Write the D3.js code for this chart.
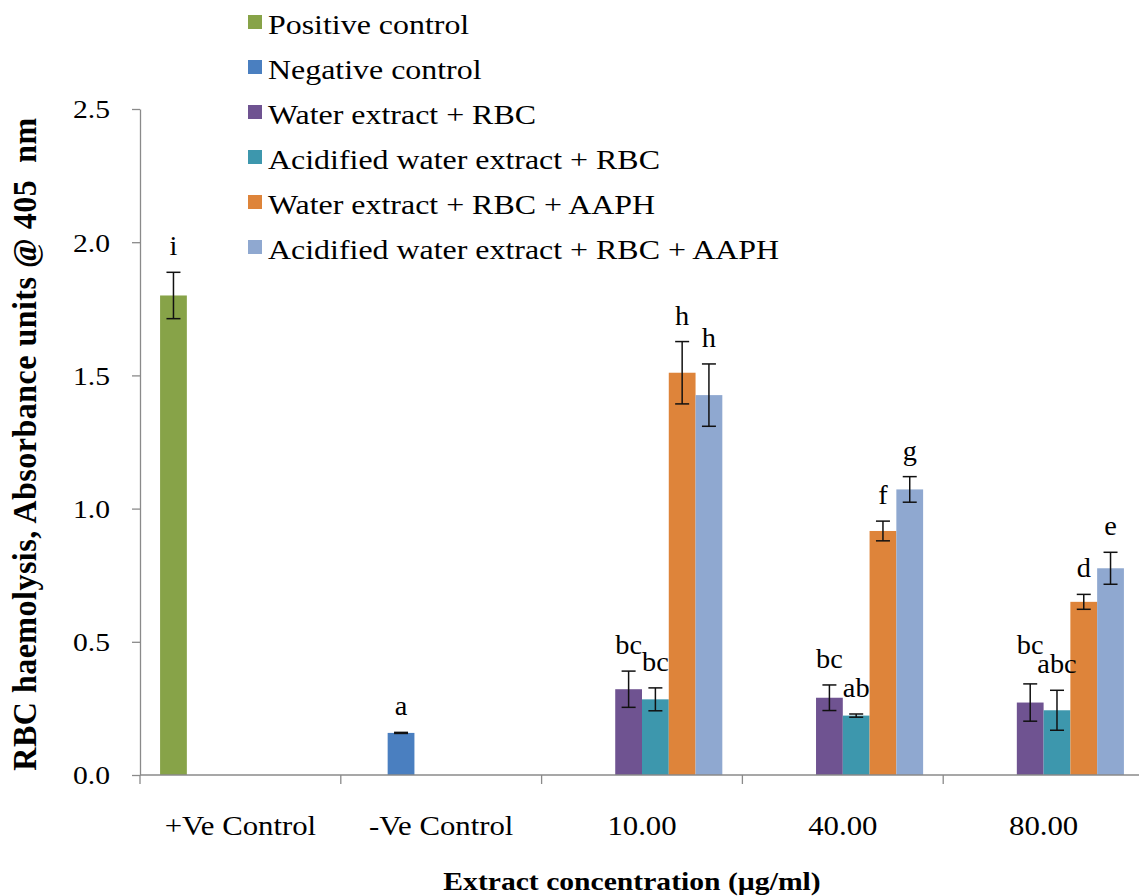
<!DOCTYPE html>
<html>
<head>
<meta charset="utf-8">
<script src="https://cdn.jsdelivr.net/npm/d3@7/dist/d3.min.js"></script>
<style>
  html, body { margin: 0; padding: 0; background: #ffffff; }
  svg { display: block; }
  text { font-family: "Liberation Serif", "Times New Roman", serif; fill: #000; }
</style>
</head>
<body>
<svg id="chart" width="1139" height="896"></svg>
<script>
// ---- data ----
const categories = ["+Ve Control", "-Ve Control", "10.00", "40.00", "80.00"];
const seriesNames = [
  "Positive control",
  "Negative control",
  "Water extract + RBC",
  "Acidified water extract + RBC",
  "Water extract + RBC + AAPH",
  "Acidified water extract + RBC + AAPH"
];
const seriesColors = ["#87a348", "#4a7fc0", "#6f5391", "#3d97ad", "#de843a", "#8fa8d0"];

// mean absorbance per series, one entry per category (null = not measured)
const positiveControl = [1.800, null, null, null, null];
const negativeControl = [null, 0.158, null, null, null];
const waterRBC        = [null, null, 0.322, 0.290, 0.272];
const acidRBC         = [null, null, 0.284, 0.223, 0.243];
const waterRBCAAPH    = [null, null, 1.510, 0.916, 0.650];
const acidRBCAAPH     = [null, null, 1.426, 1.072, 0.776];

// standard deviations
const positiveControlErr = [0.087, null, null, null, null];
const negativeControlErr = [null, 0.002, null, null, null];
const waterRBCErr        = [null, null, 0.068, 0.048, 0.070];
const acidRBCErr         = [null, null, 0.043, 0.006, 0.075];
const waterRBCAAPHErr    = [null, null, 0.117, 0.037, 0.028];
const acidRBCAAPHErr     = [null, null, 0.117, 0.048, 0.060];

// significance letters
const positiveControlSig = ["i", null, null, null, null];
const negativeControlSig = [null, "a", null, null, null];
const waterRBCSig        = [null, null, "bc", "bc", "bc"];
const acidRBCSig         = [null, null, "bc", "ab", "abc"];
const waterRBCAAPHSig    = [null, null, "h", "f", "d"];
const acidRBCAAPHSig     = [null, null, "h", "g", "e"];

const yTicks = [0.0, 0.5, 1.0, 1.5, 2.0, 2.5];

const seriesValues = [positiveControl, negativeControl, waterRBC, acidRBC, waterRBCAAPH, acidRBCAAPH];
const seriesErrors = [positiveControlErr, negativeControlErr, waterRBCErr, acidRBCErr, waterRBCAAPHErr, acidRBCAAPHErr];
const seriesSig    = [positiveControlSig, negativeControlSig, waterRBCSig, acidRBCSig, waterRBCAAPHSig, acidRBCAAPHSig];

// ---- layout ----
const SX = 1.14;               // horizontal text stretch
const plot = { left: 140, right: 1144, top: 109, bottom: 775 };
const axisColor = "#8a8a8a";

const svg = d3.select("#chart");

const x0 = d3.scaleBand().domain(categories).range([plot.left, plot.right]).paddingInner(0).paddingOuter(0);
const x1 = d3.scaleBand().domain(d3.range(seriesNames.length)).range([0, x0.bandwidth()])
  .paddingInner(0).paddingOuter(0.75);
const y = d3.scaleLinear().domain([0, 2.5]).range([plot.bottom, plot.top]);

// flattened records
const records = [];
seriesValues.forEach((vals, s) => {
  vals.forEach((v, c) => {
    if (v != null) records.push({ s, c: categories[c], v, e: seriesErrors[s][c], sig: seriesSig[s][c] });
  });
});

// helper for horizontally stretched text
function stretchedText(g, x, yy, str, opts) {
  const t = g.append("text")
    .attr("transform", `translate(${x},${yy}) scale(${opts.sx || SX},1)`)
    .attr("text-anchor", opts.anchor || "start")
    .style("font-size", opts.size + "px")
    .style("font-weight", opts.weight || "normal")
    .style("white-space", "pre")
    .text(str);
  return t;
}

// ---- bars ----
svg.append("g").selectAll("rect").data(records).join("rect")
  .attr("x", d => x0(d.c) + x1(d.s))
  .attr("width", x1.bandwidth())
  .attr("y", d => y(d.v))
  .attr("height", d => y(0) - y(d.v))
  .attr("fill", d => seriesColors[d.s]);

// ---- error bars ----
const capHalf = 7;
const eb = svg.append("g").attr("stroke", "#111").attr("stroke-width", 1.5);
records.forEach(d => {
  const cx = x0(d.c) + x1(d.s) + x1.bandwidth() / 2;
  const yt = y(d.v + d.e), yb = y(d.v - d.e);
  eb.append("line").attr("x1", cx).attr("x2", cx).attr("y1", yt).attr("y2", yb);
  eb.append("line").attr("x1", cx - capHalf).attr("x2", cx + capHalf).attr("y1", yt).attr("y2", yt);
  eb.append("line").attr("x1", cx - capHalf).attr("x2", cx + capHalf).attr("y1", yb).attr("y2", yb);
});

// ---- significance letters ----
// placed above each error bar; a label that collides with its right-hand
// neighbour in the same group is lifted above it
const letterSize = 27;
const letterSX = 1.05;
const lg = svg.append("g");
const placed = records.map(d => {
  const cx = x0(d.c) + x1(d.s) + x1.bandwidth() / 2;
  const base = y(d.v + d.e) - 17;
  const node = stretchedText(lg, cx, base, d.sig, { anchor: "middle", size: letterSize, sx: letterSX });
  const w = node.node().getBBox().width * letterSX;
  return { d, cx, base, node, w };
});
categories.forEach(c => {
  const group = placed.filter(p => p.d.c === c).sort((a, b) => b.d.s - a.d.s);
  for (let i = 1; i < group.length; i++) {
    const left = group[i], right = group[i - 1];
    const hOverlap = (left.cx + left.w / 2) > (right.cx - right.w / 2) + 1;
    const topOfRight = right.base - letterSize * 0.72;
    if (hOverlap && left.base > topOfRight) {
      left.base = topOfRight;
      left.node.attr("transform", `translate(${left.cx},${left.base}) scale(${letterSX},1)`);
    }
  }
});

// ---- y axis ----
const yAxis = svg.append("g")
  .attr("transform", `translate(${plot.left},0)`)
  .call(d3.axisLeft(y).tickValues(yTicks).tickFormat(d3.format(".1f")).tickSize(8).tickSizeOuter(0));
yAxis.select(".domain").attr("stroke", axisColor).attr("stroke-width", 1.3);
yAxis.selectAll(".tick line").attr("stroke", axisColor).attr("stroke-width", 1.3);
yAxis.selectAll(".tick text")
  .attr("x", -30 / SX).attr("dy", "0.34em")
  .attr("transform", `scale(${SX},1)`)
  .style("font-family", "'Liberation Serif', serif")
  .style("font-size", "26px")
  .attr("fill", "#000");

// ---- x axis ----
const xAxis = svg.append("g").attr("transform", `translate(0,${plot.bottom})`);
xAxis.append("line")
  .attr("x1", plot.left).attr("x2", plot.right)
  .attr("stroke", axisColor).attr("stroke-width", 1.3);
xAxis.selectAll("line.tick").data(categories).join("line")
  .attr("class", "tick")
  .attr("x1", d => x0(d)).attr("x2", d => x0(d))
  .attr("y1", 0).attr("y2", 9)
  .attr("stroke", axisColor).attr("stroke-width", 1.3);
const xl = svg.append("g");
categories.forEach(c => {
  stretchedText(xl, x0(c) + x0.bandwidth() / 2, 835, c, { anchor: "middle", size: 27 });
});

// ---- axis titles ----
svg.append("text")
  .attr("transform", `translate(36,444) scale(1.05,1) rotate(-90)`)
  .attr("text-anchor", "middle")
  .style("font-size", "32px")
  .style("font-weight", "bold")
  .style("letter-spacing", "0.5px")
  .style("white-space", "pre")
  .text("RBC haemolysis, Absorbance units @ 405  nm");

stretchedText(svg, 632, 890, "Extract concentration (\u00b5g/ml)", { anchor: "middle", size: 26, weight: "bold" });

// ---- legend ----
const legend = svg.append("g");
seriesNames.forEach((name, i) => {
  const by = 34 + i * 45;
  legend.append("rect")
    .attr("x", 248).attr("y", by - 19).attr("width", 14).attr("height", 14)
    .attr("fill", seriesColors[i]);
  stretchedText(legend, 268, by, name, { size: 28 });
});
</script>
</body>
</html>
